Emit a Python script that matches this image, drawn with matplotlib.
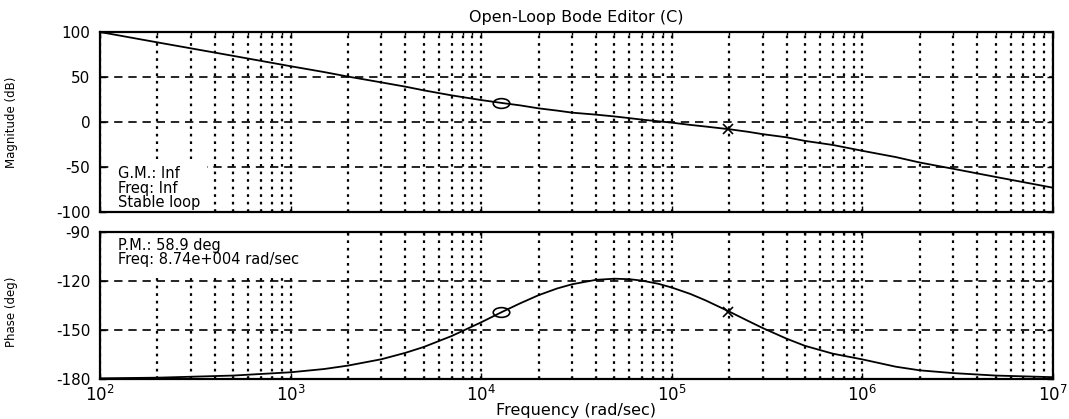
import numpy as np
import matplotlib
matplotlib.use("Agg")
import matplotlib.pyplot as plt
from matplotlib.markers import MarkerStyle
from matplotlib.transforms import Affine2D
from matplotlib.ticker import LogLocator, FixedLocator, FuncFormatter, NullFormatter

# values
freq = [1e2, 2e2, 5e2, 1e3, 1.5e3, 2e3, 3e3, 4e3, 5e3, 7e3, 1e4, 1.3e4, 1.6e4,
        2e4, 2.5e4, 3e4, 4e4, 5e4, 6e4, 7e4, 8.5e4, 1e5, 1.25e5, 1.5e5, 2e5,
        2.5e5, 3e5, 4e5, 5e5, 7e5, 1e6, 1.5e6, 2e6, 3e6, 5e6, 1e7]
mag_db = [100, 88.5, 73.5, 62, 55.5, 50.5, 44, 39.3, 35.2, 29.6, 24.4, 21, 18.5,
          15.2, 12.7, 10.4, 8.2, 6.2, 4.3, 2.6, 0.8, -0.7, -3.2, -5, -8,
          -10.8, -13.5, -17, -21, -25.5, -32, -39, -45, -52, -61, -73]
phase_deg = [-179.6, -179.2, -177.9, -175.9, -173.9, -171.8, -167.9, -164.0,
             -160.4, -153.7, -145.3, -138.7, -133.7, -128.7, -124.6, -122.0,
             -119.3, -118.6, -118.9, -119.8, -121.7, -124.0, -127.9, -131.8,
             -138.7, -144.3, -148.8, -155.3, -159.7, -164.5, -168.0, -172.5,
             -174.7, -176.4, -177.9, -178.9]

zero_freq = 1.27e4   # compensator zero (o)
pole_freq = 1.97e5   # compensator pole (x)
zero_mag, pole_mag = 21, -8
zero_phase, pole_phase = -138.7, -138.7

mag_ticks = [-100, -50, 0, 50, 100]
phase_ticks = [-180, -150, -120, -90]

plt.rcParams['font.family'] = ['DejaVu Sans']
plt.rcParams['axes.unicode_minus'] = False

fig = plt.figure(figsize=(10.69, 4.19), dpi=100)
ax1 = fig.add_axes([0.0935, 0.494, 0.8915, 0.4296])
ax2 = fig.add_axes([0.0935, 0.0955, 0.8915, 0.3508])

oval = MarkerStyle('o', transform=Affine2D().scale(1.7, 1.0))

for ax in (ax1, ax2):
    ax.set_xscale('log')
    ax.set_xlim(1e2, 1e7)
    ax.xaxis.set_major_locator(LogLocator(base=10, numticks=10))
    ax.xaxis.set_minor_locator(LogLocator(base=10, subs=np.arange(2, 10), numticks=20))
    ax.xaxis.set_minor_formatter(NullFormatter())
    ax.grid(True, which='both', axis='x', linestyle=(0, (1.2, 2.2)),
            color='black', linewidth=1.6)
    ax.grid(True, which='major', axis='y', linestyle=(0, (5, 3.5)),
            color='black', linewidth=1.2)
    ax.tick_params(which='both', direction='in', top=True, right=True,
                   labelsize=11, pad=7, length=4, width=1)
    ax.tick_params(which='minor', length=2)
    for s in ax.spines.values():
        s.set_linewidth(1.6)

ax1.plot(freq, mag_db, color='black', linewidth=1.3, zorder=3)
ax1.plot([zero_freq], [zero_mag], marker=oval, markersize=7, mfc='none',
         mec='black', mew=1.2, linestyle='none', zorder=4)
ax1.plot([pole_freq], [pole_mag], marker='x', markersize=7, color='black',
         mew=1.2, linestyle='none', zorder=4)
ax1.set_ylim(-100, 100)
ax1.yaxis.set_major_locator(FixedLocator(mag_ticks))
ax1.tick_params(axis='x', labelbottom=False)
ax1.set_title('Open-Loop Bode Editor (C)', fontsize=11.5, pad=7)
ax1.set_ylabel('Magnitude (dB)', fontsize=8.5)
ax1.yaxis.set_label_coords(-0.086, 0.5)
ax1.text(0.019, 0.255, 'G.M.: Inf\nFreq: Inf\nStable loop', transform=ax1.transAxes,
         fontsize=10.5, va='top', ha='left', linespacing=0.95, zorder=2.2,
         bbox=dict(facecolor='white', edgecolor='none', pad=5))

ax2.plot(freq, phase_deg, color='black', linewidth=1.3, zorder=3)
ax2.plot([zero_freq], [zero_phase], marker=oval, markersize=7, mfc='none',
         mec='black', mew=1.2, linestyle='none', zorder=4)
ax2.plot([pole_freq], [pole_phase], marker='x', markersize=7, color='black',
         mew=1.2, linestyle='none', zorder=4)
ax2.set_ylim(-180, -90)
ax2.yaxis.set_major_locator(FixedLocator(phase_ticks))
ax2.xaxis.set_major_formatter(FuncFormatter(lambda v, p: r'$10^{%d}$' % round(np.log10(v))))
ax2.tick_params(axis='x', labelsize=12, pad=4)
ax2.set_ylabel('Phase (deg)', fontsize=8.5)
ax2.yaxis.set_label_coords(-0.086, 0.456)
ax2.set_xlabel('Frequency (rad/sec)', fontsize=11.5, labelpad=-1)
ax2.text(0.019, 0.96, 'P.M.: 58.9 deg\nFreq: 8.74e+004 rad/sec', transform=ax2.transAxes,
         fontsize=10.5, va='top', ha='left', linespacing=0.95, zorder=2.2,
         bbox=dict(facecolor='white', edgecolor='none', pad=5))

fig.savefig('out.png', dpi=100)
